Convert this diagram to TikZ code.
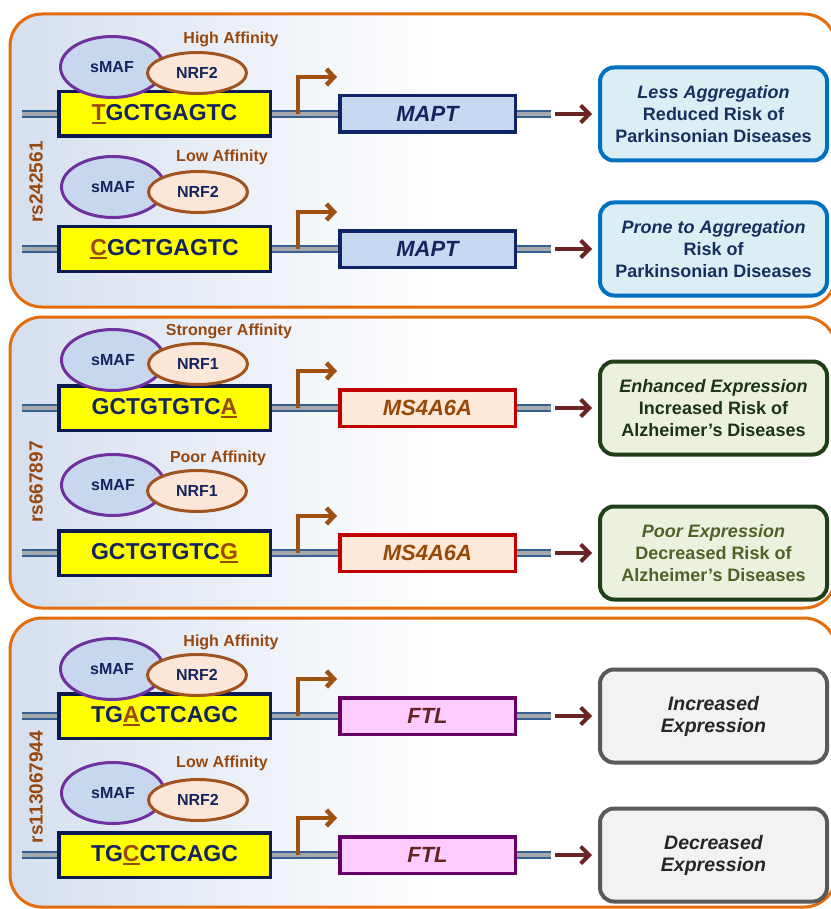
\documentclass[tikz,border=0pt]{standalone}
\usepackage{fontspec}
\setmainfont{Liberation Sans}
\usetikzlibrary{shapes.geometric,arrows.meta}
\pgfdeclarelayer{back}
\pgfdeclarelayer{mid}
\pgfsetlayers{back,mid,main}

\definecolor{panelorange}{HTML}{E46C0A}
\definecolor{panelblue}{HTML}{D5DFEE}
\definecolor{navytext}{HTML}{14245E}
\definecolor{seqborder}{HTML}{0C1A50}
\definecolor{seqyellow}{HTML}{FFFF00}
\definecolor{snpbrown}{HTML}{9A4A0E}
\definecolor{labelbrown}{HTML}{98480F}
\definecolor{promobrown}{HTML}{A0500F}
\definecolor{dnablue}{HTML}{35608F}
\definecolor{dnagray}{HTML}{A5A8AC}
\definecolor{smafpurple}{HTML}{7030A0}
\definecolor{smaffill}{HTML}{C6D7EE}
\definecolor{nrfbrown}{HTML}{A0531E}
\definecolor{nrffill}{HTML}{FCE6D8}
\definecolor{maptborder}{HTML}{0F2464}
\definecolor{maptfill}{HTML}{C6D9F1}
\definecolor{msborder}{HTML}{C00000}
\definecolor{msfill}{HTML}{FDE9D9}
\definecolor{mstext}{HTML}{984807}
\definecolor{ftlborder}{HTML}{660066}
\definecolor{ftlfill}{HTML}{FFCCFF}
\definecolor{ftltext}{HTML}{632523}
\definecolor{arrowred}{HTML}{6B2424}
\definecolor{resblueb}{HTML}{0070C0}
\definecolor{resbluef}{HTML}{DAEEF3}
\definecolor{resbluet}{HTML}{17305E}
\definecolor{resgreenb}{HTML}{1D3F1A}
\definecolor{resgreenf}{HTML}{EBF1DE}
\definecolor{resgreent}{HTML}{1B3318}
\definecolor{resolivet}{HTML}{4F6228}
\definecolor{resgrayb}{HTML}{595959}
\definecolor{resgrayf}{HTML}{F2F2F2}
\definecolor{resgrayt}{HTML}{262626}

\newcommand\snp[1]{{\color{snpbrown}\setbox0=\hbox{#1}\rlap{\rule[-4pt]{\wd0}{2.2pt}}\box0}}

\tikzset{
  panel/.style={draw=panelorange, line width=3pt, rounded corners=32pt},
  seqbox/.style={draw=seqborder, fill=seqyellow, line width=3.5pt, minimum width=211.5pt,
    minimum height=44.5pt, inner sep=0pt, text=navytext, font=\fontsize{23}{27}\selectfont\bfseries},
  genebox/.style={line width=3.5pt, minimum width=175.5pt, minimum height=36.5pt, inner sep=0pt,
    font=\fontsize{22}{26}\selectfont\bfseries\itshape},
  mapt/.style={genebox, draw=maptborder, fill=maptfill, text=navytext},
  ms4/.style={genebox, draw=msborder, fill=msfill, text=mstext},
  ftl/.style={genebox, draw=ftlborder, fill=ftlfill, text=ftltext},
  resbox/.style={rounded corners=14pt, line width=4pt, minimum width=227pt, minimum height=93pt,
    inner sep=0pt, align=center, font=\fontsize{18}{22}\selectfont\bfseries},
  resblue/.style={resbox, draw=resblueb, fill=resbluef, text=resbluet},
  resgreen/.style={resbox, draw=resgreenb, fill=resgreenf, text=resgreent},
  resolive/.style={resbox, draw=resgreenb, fill=resgreenf, text=resolivet},
  resgray/.style={resbox, draw=resgrayb, fill=resgrayf, text=resgrayt,
    font=\fontsize{19.5}{22}\selectfont\bfseries\itshape},
  dna/.style={draw=dnablue, double=dnagray, double distance=3.5pt, line width=2.5pt},
  prom/.style={draw=promobrown, line width=4.5pt, -{Straight Barb[length=7.5pt,width=16pt]}},
  resarrow/.style={draw=arrowred, line width=4pt, -{Straight Barb[length=8.5pt,width=17pt]},
    shorten <=4pt, shorten >=6pt},
  smaf/.style={ellipse, draw=smafpurple, fill=smaffill, line width=3pt, minimum width=103pt,
    minimum height=61pt, inner sep=0pt, text=navytext, font=\fontsize{16}{18}\selectfont\bfseries},
  nrf/.style={ellipse, draw=nrfbrown, fill=nrffill, line width=3pt, minimum width=99pt,
    minimum height=41pt, inner sep=0pt, text=navytext, font=\fontsize{16}{18}\selectfont\bfseries},
  afflabel/.style={text=labelbrown, inner sep=0pt, font=\fontsize{16}{18}\selectfont\bfseries},
  rslabel/.style={rotate=90, text=labelbrown, inner sep=0pt, font=\fontsize{19}{22}\selectfont\bfseries}
}

\newcommand\generow[7]{%
  \coordinate (#1L) at (22,#2);
  \node[seqbox] (#1seq) at (164.5,#2) {#3};
  \node[#4] (#1gene) at (427.5,#2) {#5};
  \coordinate (#1R) at (551,#2);
  \node[#6] (#1res) at (713.5,#2) {#7};
  \begin{pgfonlayer}{mid}
    \draw[dna] (#1L) -- (#1seq.west);
    \draw[dna] (#1seq.east) -- (#1gene.west);
    \draw[dna] (#1gene.east) -- (#1R);
  \end{pgfonlayer}
  \coordinate (#1P) at (298,#2);
  \coordinate (#1Q) at (337,#2-37);
  \draw[prom] (#1P) |- (#1Q);
  \draw[resarrow] (#1R) -- (#1res.west);
}

\begin{document}
\begin{tikzpicture}[x=1pt,y=-1pt]
\useasboundingbox (0,0) rectangle (830,909);
\begin{pgfonlayer}{back}
  \fill[white] (0,0) rectangle (830,909);
  \foreach \t/\b in {14/307, 317/608, 618/907} {
    \begin{scope}
      \clip[rounded corners=32pt] (10,\t) rectangle (836,\b);
      \shade[left color=panelblue, middle color=panelblue!55!white, right color=white] (10,\t) rectangle (440,\b);
    \end{scope}
    \draw[panel] (10,\t) rectangle (836,\b);
  }
\end{pgfonlayer}

% Panel 1: rs242561 / MAPT
\generow{a}{114}{\snp{T}GCTGAGTC}{mapt}{MAPT}{resblue}{{\itshape Less Aggregation}\\Reduced Risk of\\Parkinsonian Diseases}
\node[smaf] (asmaf) at (112,67) {sMAF};
\node[nrf] (anrf) at (197,73) {NRF2};
\node[afflabel] (aaff) at (231,39) {High Affinity};

\generow{b}{249}{\snp{C}GCTGAGTC}{mapt}{MAPT}{resblue}{{\itshape Prone to Aggregation}\\Risk of\\Parkinsonian Diseases}
\node[smaf] (bsmaf) at (113,187) {sMAF};
\node[nrf] (bnrf) at (198,192) {NRF2};
\node[afflabel] (baff) at (222,157) {Low Affinity};

\node[rslabel] (rsa) at (36,182) {rs242561};

% Panel 2: rs667897 / MS4A6A
\generow{c}{408}{GCTGTGTC\snp{A}}{ms4}{MS4A6A}{resgreen}{{\itshape Enhanced Expression}\\Increased Risk of\\Alzheimer’s Diseases}
\node[smaf] (csmaf) at (113,360) {sMAF};
\node[nrf] (cnrf) at (198,364) {NRF1};
\node[afflabel] (caff) at (229,331) {Stronger Affinity};

\generow{d}{553}{GCTGTGTC\snp{G}}{ms4}{MS4A6A}{resolive}{{\itshape Poor Expression}\\Decreased Risk of\\Alzheimer’s Diseases}
\node[smaf] (dsmaf) at (113,485) {sMAF};
\node[nrf] (dnrf) at (197,491) {NRF1};
\node[afflabel] (daff) at (218,458) {Poor Affinity};

\node[rslabel] (rsb) at (36,482) {rs667897};

% Panel 3: rs113067944 / FTL
\generow{e}{716}{TG\snp{A}CTCAGC}{ftl}{FTL}{resgray}{Increased\\Expression}
\node[smaf] (esmaf) at (112,669) {sMAF};
\node[nrf] (enrf) at (197,675) {NRF2};
\node[afflabel] (eaff) at (231,642) {High Affinity};

\generow{f}{855}{TG\snp{C}CTCAGC}{ftl}{FTL}{resgray}{Decreased\\Expression}
\node[smaf] (fsmaf) at (113,793) {sMAF};
\node[nrf] (fnrf) at (198,800) {NRF2};
\node[afflabel] (faff) at (222,763) {Low Affinity};

\node[rslabel] (rsc) at (36,787) {rs113067944};
\end{tikzpicture}
\end{document}
